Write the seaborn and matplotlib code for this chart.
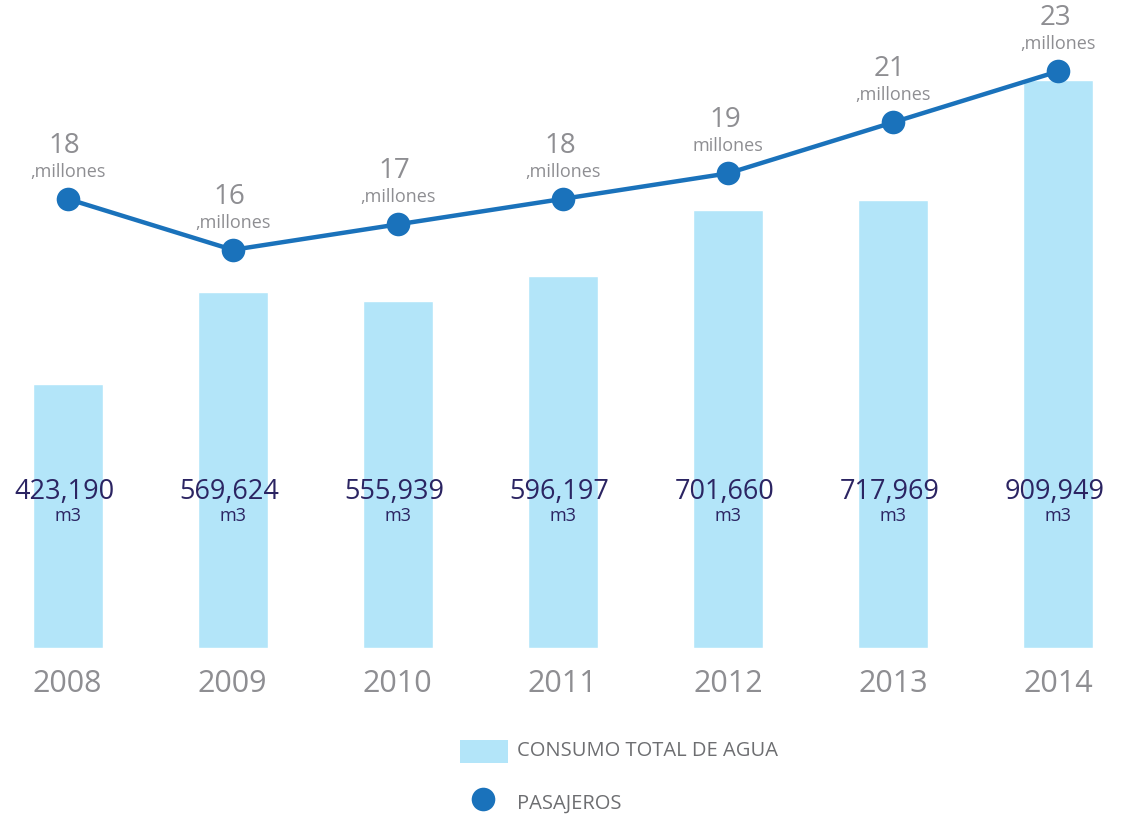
import matplotlib
matplotlib.use("Agg")
import matplotlib.pyplot as plt
import seaborn as sns
import pandas as pd
import numpy as np
from matplotlib.patches import Rectangle
from matplotlib.lines import Line2D

years = ["2008", "2009", "2010", "2011", "2012", "2013", "2014"]
consumo = [423190, 569624, 555939, 596197, 701660, 717969, 909949]
pasajeros = [18, 16, 17, 18, 19, 21, 23]
consumo_labels = ["423,190", "569,624", "555,939", "596,197", "701,660", "717,969", "909,949"]
pasajeros_units = [",millones", ",millones", ",millones", ",millones", "millones", ",millones", ",millones"]

sns.set_theme(style="white")
plt.rcParams["font.family"] = ["Open Sans", "DejaVu Sans"]

BAR = "#b3e5f9"
LINE = "#1a72bb"
NAVY = "#2b2462"
GRAY = "#8e8e92"
LGRAY = "#6d6e71"

fig = plt.figure(figsize=(11.24, 8.16), dpi=100)
ax = fig.add_axes([0, 0.206, 1, 0.794])
df = pd.DataFrame({"year": years, "consumo": consumo})
sns.barplot(data=df, x="year", y="consumo", color=BAR, width=0.424, saturation=1, ax=ax)
ax.set_xlim(-0.41, 6.40)
ax.set_ylim(0, 1038000)
ax.axis("off")

for i, lab in enumerate(consumo_labels):
    ax.text(i - 0.02, 0.240, lab, transform=ax.get_xaxis_transform(), ha="center", va="center",
            fontsize=19.5, color=NAVY)
    ax.text(i, 0.203, "m3", transform=ax.get_xaxis_transform(), ha="center", va="center",
            fontsize=13, color=NAVY)
    ax.text(i, -0.056, years[i], transform=ax.get_xaxis_transform(), ha="center", va="center",
            fontsize=22, color=GRAY)

ax2 = ax.twinx()
ax2.set_position([0, 0.206, 1, 0.794])
sns.lineplot(x=np.arange(len(years)), y=pasajeros, ax=ax2, color=LINE, linewidth=3.2,
             marker="o", markersize=17, markeredgewidth=0, markerfacecolor=LINE)
ax2.set_xlim(-0.41, 6.40)
ax2.set_ylim(0.39, 25.8)
ax2.axis("off")

for i, v in enumerate(pasajeros):
    ax2.annotate(str(v), (i, v), xytext=(-3, 53), textcoords="offset pixels", ha="center",
                 va="center", fontsize=20, color=GRAY)
    ax2.annotate(pasajeros_units[i], (i, v), xytext=(0, 27), textcoords="offset pixels",
                 ha="center", va="center", fontsize=13, color=GRAY)

# legend
fig.patches.append(Rectangle((460 / 1124, 1 - 763 / 816), 48 / 1124, 23 / 816,
                             transform=fig.transFigure, facecolor=BAR, edgecolor="none"))
fig.text(517 / 1124, 1 - 751 / 816, "CONSUMO TOTAL DE AGUA", ha="left", va="center",
         fontsize=14.5, color=LGRAY)
fig.lines.append(Line2D([483 / 1124], [1 - 799 / 816], transform=fig.transFigure,
                        marker="o", markersize=17, color=LINE, markeredgewidth=0))
fig.text(517 / 1124, 1 - 804 / 816, "PASAJEROS", ha="left", va="center",
         fontsize=14.5, color=LGRAY)

fig.savefig("out.png", dpi=100)
